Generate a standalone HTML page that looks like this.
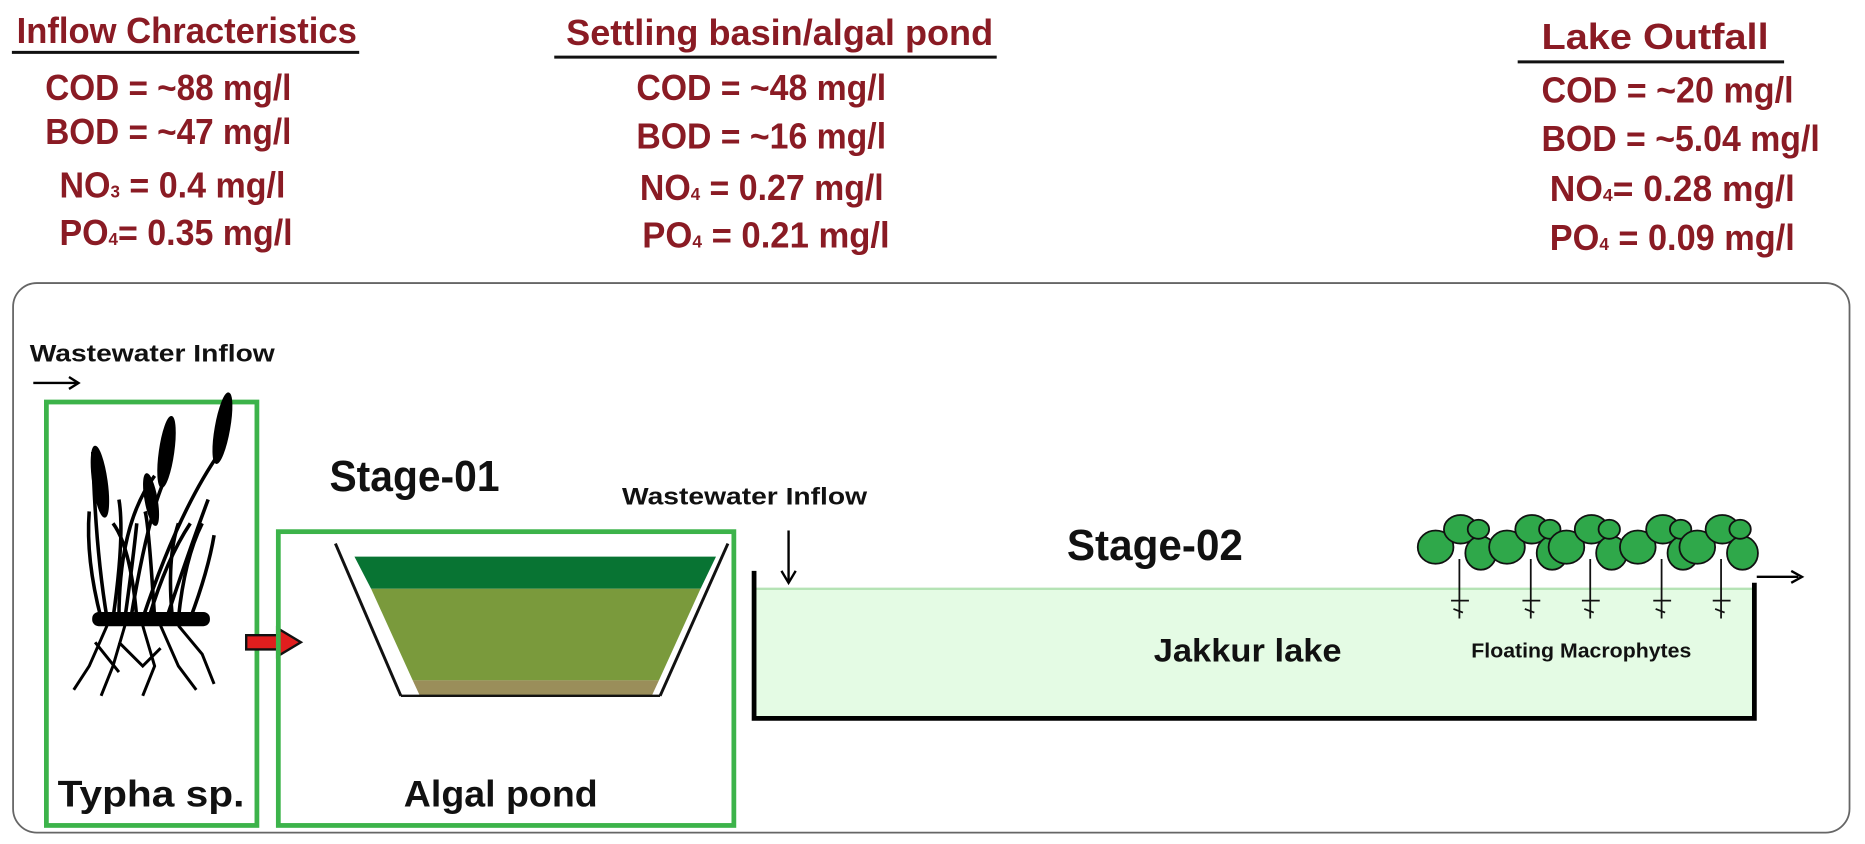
<!DOCTYPE html>
<html><head><meta charset="utf-8"><style>
html,body{margin:0;padding:0;background:#fff;width:1865px;height:844px;overflow:hidden}
svg text{font-family:"Liberation Sans Narrow","Liberation Sans",sans-serif;font-weight:bold}
.r{fill:#8a1b24;font-size:30px}
</style></head><body>
<svg width="1865" height="844" viewBox="0 0 1865 844" xmlns="http://www.w3.org/2000/svg">
<g transform="scale(1.1894)">
<!-- headers -->
<text class="r" x="14" y="36" textLength="286" lengthAdjust="spacingAndGlyphs">Inflow Chracteristics</text>
<line x1="10" y1="44" x2="302" y2="44" stroke="#111" stroke-width="2.5"/>
<text class="r" x="38" y="84" textLength="207" lengthAdjust="spacingAndGlyphs">COD = ~88 mg/l</text>
<text class="r" x="38" y="121" textLength="207" lengthAdjust="spacingAndGlyphs">BOD = ~47 mg/l</text>
<text class="r" x="50" y="166" textLength="190" lengthAdjust="spacingAndGlyphs">NO<tspan font-size="15">3</tspan> =  0.4 mg/l</text>
<text class="r" x="50" y="206" textLength="196" lengthAdjust="spacingAndGlyphs">PO<tspan font-size="15">4</tspan>= 0.35 mg/l</text>

<text class="r" x="476" y="38" textLength="359" lengthAdjust="spacingAndGlyphs">Settling basin/algal pond</text>
<line x1="466" y1="48" x2="838" y2="48" stroke="#111" stroke-width="2.5"/>
<text class="r" x="535" y="84" textLength="210" lengthAdjust="spacingAndGlyphs">COD = ~48 mg/l</text>
<text class="r" x="535" y="125" textLength="210" lengthAdjust="spacingAndGlyphs">BOD = ~16 mg/l</text>
<text class="r" x="538" y="168" textLength="205" lengthAdjust="spacingAndGlyphs">NO<tspan font-size="15">4</tspan> = 0.27 mg/l</text>
<text class="r" x="540" y="208" textLength="208" lengthAdjust="spacingAndGlyphs">PO<tspan font-size="15">4</tspan>  = 0.21 mg/l</text>

<text class="r" x="1296" y="41" textLength="191" lengthAdjust="spacingAndGlyphs">Lake Outfall</text>
<line x1="1276" y1="52" x2="1500" y2="52" stroke="#111" stroke-width="2.5"/>
<text class="r" x="1296" y="86" textLength="212" lengthAdjust="spacingAndGlyphs">COD = ~20 mg/l</text>
<text class="r" x="1296" y="127" textLength="234" lengthAdjust="spacingAndGlyphs">BOD = ~5.04 mg/l</text>
<text class="r" x="1303" y="169" textLength="206" lengthAdjust="spacingAndGlyphs">NO<tspan font-size="15">4</tspan>= 0.28 mg/l</text>
<text class="r" x="1303" y="210" textLength="206" lengthAdjust="spacingAndGlyphs">PO<tspan font-size="15">4</tspan> = 0.09 mg/l</text>

<!-- main box -->
<rect x="11" y="238" width="1544" height="462" rx="20" fill="none" stroke="#666" stroke-width="1.5"/>

<text x="25" y="304" font-size="20" fill="#111" textLength="206" lengthAdjust="spacingAndGlyphs">Wastewater Inflow</text>
<line x1="28" y1="322" x2="64" y2="322" stroke="#000" stroke-width="2"/>
<path d="M58,317 L66,322 L58,327" fill="none" stroke="#000" stroke-width="2"/>

<!-- typha box -->
<rect x="39" y="338" width="177" height="356" fill="none" stroke="#3cb34a" stroke-width="4"/>
<g fill="#000" stroke="#000">
<ellipse cx="84" cy="405" rx="6" ry="30" transform="rotate(-8 84 405)"/>
<ellipse cx="140" cy="380" rx="6" ry="30" transform="rotate(8 140 380)"/>
<ellipse cx="187" cy="360" rx="6" ry="30" transform="rotate(10 187 360)"/>
<ellipse cx="127" cy="420" rx="5" ry="22" transform="rotate(-10 127 420)"/>
<g fill="none" stroke-width="3">
<path d="M90,520 Q80,460 78,380"/><path d="M100,520 Q100,440 130,400"/><path d="M110,520 Q125,430 140,400"/>
<path d="M120,520 Q150,430 185,380"/><path d="M130,520 Q125,440 122,430"/><path d="M140,520 Q160,460 175,420"/>
<path d="M85,520 Q72,470 75,430"/><path d="M150,520 Q155,470 170,440"/><path d="M95,520 Q105,450 100,420"/>
<path d="M115,520 Q110,460 95,440"/><path d="M160,520 Q175,480 180,450"/><path d="M125,520 Q140,470 160,440"/>
<path d="M105,520 Q112,470 115,440"/><path d="M145,520 Q140,470 150,440"/>
</g>
<rect x="78" y="515" width="98" height="11" rx="5"/>
<g fill="none" stroke-width="2.5"><path d="M90,526 L75,560 L62,580"/><path d="M105,526 L95,560 L85,585"/><path d="M120,526 L130,560 L120,585"/><path d="M135,526 L150,560 L165,580"/><path d="M150,526 L170,550 L180,575"/><path d="M100,540 L120,560 L135,545"/><path d="M80,540 L100,565"/></g>
</g>
<text x="127" y="678" font-size="31" text-anchor="middle" fill="#111" textLength="157" lengthAdjust="spacingAndGlyphs">Typha sp.</text>

<!-- red arrow -->
<path d="M207,534 L233,534 L233,528 L253,540 L233,552 L233,546 L207,546 Z" fill="#e01e1e" stroke="#111" stroke-width="2"/>

<text x="277" y="413" font-size="37" fill="#111" textLength="143" lengthAdjust="spacingAndGlyphs">Stage-01</text>

<!-- algal pond -->
<rect x="234" y="447" width="383" height="247" fill="none" stroke="#3cb34a" stroke-width="4"/>
<polygon points="298,468 602,468 589,495 312,495" fill="#087433"/>
<polygon points="312,495 589,495 554,572 347,572" fill="#7a9a3c"/>
<polygon points="347,572 554,572 548,585 353,585" fill="#9a8e5a"/>
<line x1="282" y1="457" x2="337" y2="585" stroke="#111" stroke-width="2.5"/>
<line x1="612" y1="457" x2="555" y2="585" stroke="#111" stroke-width="2.5"/>
<line x1="337" y1="585" x2="555" y2="585" stroke="#111" stroke-width="2"/>
<text x="421" y="678" font-size="31" text-anchor="middle" fill="#111" textLength="163" lengthAdjust="spacingAndGlyphs">Algal pond</text>

<!-- lake -->
<text x="523" y="424" font-size="20" fill="#111" textLength="206" lengthAdjust="spacingAndGlyphs">Wastewater Inflow</text>
<line x1="663" y1="446" x2="663" y2="488" stroke="#000" stroke-width="2"/>
<path d="M657,480 L663,490 L669,480" fill="none" stroke="#000" stroke-width="2"/>
<rect x="635" y="495" width="838" height="108" fill="#e4fbe4"/>
<line x1="635" y1="495" x2="1473" y2="495" stroke="#b5e3b5" stroke-width="2"/>
<path d="M634,480 L634,604 L1475,604 L1475,490" fill="none" stroke="#000" stroke-width="4"/>
<line x1="1477" y1="485" x2="1512" y2="485" stroke="#000" stroke-width="2"/>
<path d="M1506,480 L1515,485 L1506,490" fill="none" stroke="#000" stroke-width="2"/>

<text x="897" y="471" font-size="37" fill="#111" textLength="148" lengthAdjust="spacingAndGlyphs">Stage-02</text>
<text x="970" y="556" font-size="27" fill="#111" textLength="158" lengthAdjust="spacingAndGlyphs">Jakkur lake</text>
<text x="1237" y="553" font-size="17" fill="#111" textLength="185" lengthAdjust="spacingAndGlyphs">Floating Macrophytes</text>

<!-- plants -->
<g id="pl" stroke="#111" stroke-width="1.5" fill="#2fa84a">
<ellipse cx="1207" cy="460" rx="15" ry="14"/>
<ellipse cx="1228" cy="445" rx="14" ry="12"/>
<ellipse cx="1245" cy="465" rx="13" ry="14"/>
<ellipse cx="1243" cy="445" rx="9" ry="8"/>
<line x1="1227" y1="470" x2="1227" y2="520" fill="none"/>
<path d="M1220,505 L1235,505 M1222,512 L1230,515" fill="none"/>
</g>
<use href="#pl" x="60"/>
<use href="#pl" x="110"/>
<use href="#pl" x="170"/>
<use href="#pl" x="220"/>
</g>
</svg>
</body></html>
